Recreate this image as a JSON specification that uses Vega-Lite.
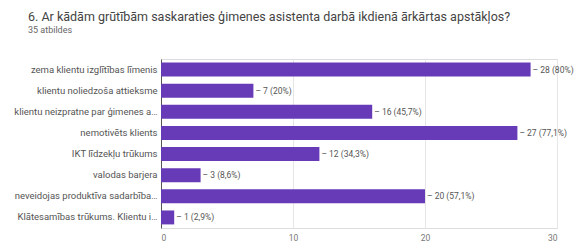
{
  "$schema": "https://vega.github.io/schema/vega-lite/v6.json",
  "autosize": "none",
  "width": 396,
  "height": 169,
  "padding": {"left": 161, "top": 59, "right": 25, "bottom": 21},
  "background": "white",
  "title": {
    "text": "6. Ar kādām grūtībām saskaraties ģimenes asistenta darbā ikdienā ārkārtas apstākļos?",
    "subtitle": "35 atbildes",
    "anchor": "start",
    "frame": "group",
    "dx": -133,
    "offset": 24,
    "font": "Roboto",
    "fontSize": 12.5,
    "fontWeight": "normal",
    "color": "#444444",
    "subtitleFont": "Roboto",
    "subtitleFontSize": 9,
    "subtitleColor": "#666666",
    "subtitlePadding": 3
  },
  "data": {
    "values": [
      {"label": "zema klientu izglītības līmenis", "value": 28, "pct": "– 28 (80%)"},
      {"label": "klientu noliedzoša attieksme", "value": 7, "pct": "– 7 (20%)"},
      {"label": "klientu neizpratne par ģimenes asistenta lomu", "value": 16, "pct": "– 16 (45,7%)"},
      {"label": "nemotivēts klients", "value": 27, "pct": "– 27 (77,1%)"},
      {"label": "IKT līdzekļu trūkums", "value": 12, "pct": "– 12 (34,3%)"},
      {"label": "valodas barjera", "value": 3, "pct": "– 3 (8,6%)"},
      {"label": "neveidojas produktīva sadarbība ar klientu", "value": 20, "pct": "– 20 (57,1%)"},
      {"label": "Klātesamības trūkums. Klientu ierobežota pieejamība", "value": 1, "pct": "– 1 (2,9%)"}
    ]
  },
  "encoding": {
    "y": {
      "field": "label",
      "type": "nominal",
      "sort": null,
      "scale": {"paddingInner": 0.34, "paddingOuter": 0.17},
      "axis": {
        "title": null,
        "ticks": false,
        "domainColor": "#555555",
        "domainWidth": 1,
        "labelFont": "Roboto",
        "labelFontSize": 9.5,
        "labelColor": "#555555",
        "labelLimit": 145,
        "labelPadding": 4
      }
    },
    "x": {
      "field": "value",
      "type": "quantitative",
      "scale": {"domain": [0, 30]},
      "axis": {
        "title": null,
        "values": [0, 10, 20, 30],
        "domain": false,
        "ticks": false,
        "gridColor": "#e6e6e6",
        "labelFont": "Roboto",
        "labelFontSize": 8.5,
        "labelColor": "#777777",
        "labelPadding": 5
      }
    }
  },
  "layer": [
    {"mark": {"type": "bar", "color": "#673ab7"}},
    {
      "mark": {"type": "text", "align": "left", "dx": 2, "font": "Roboto", "fontSize": 8.5, "color": "#555555"},
      "encoding": {"text": {"field": "pct"}}
    }
  ]
}
